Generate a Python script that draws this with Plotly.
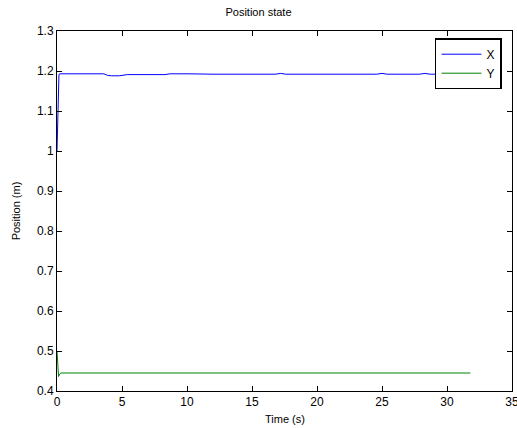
import plotly.graph_objects as go

# Data
time_x = [0.0, 0.05, 0.1, 0.15, 0.2, 3.6, 3.9, 4.2, 4.8, 5.1, 5.4, 8.3, 8.7, 10.0, 12.0, 16.8, 17.2, 17.6, 18.0, 24.6, 25.0, 25.4, 27.9, 28.3, 28.7, 31.8]
pos_x = [1.0, 1.10, 1.17, 1.19, 1.193, 1.193, 1.189, 1.188, 1.188, 1.190, 1.191, 1.191, 1.193, 1.193, 1.192, 1.192, 1.194, 1.192, 1.192, 1.192, 1.194, 1.192, 1.192, 1.194, 1.192, 1.192]
time_y = [0.0, 0.05, 0.12, 0.2, 0.3, 31.8]
pos_y = [0.50, 0.47, 0.436, 0.442, 0.445, 0.445]

x_ticks = [0, 5, 10, 15, 20, 25, 30, 35]
y_ticks = [0.4, 0.5, 0.6, 0.7, 0.8, 0.9, 1.0, 1.1, 1.2, 1.3]

fig = go.Figure()
fig.add_trace(go.Scatter(x=time_x, y=pos_x, mode="lines", name="X",
                         line=dict(color="#0000ff", width=1)))
fig.add_trace(go.Scatter(x=time_y, y=pos_y, mode="lines", name="Y",
                         line=dict(color="#008000", width=1)))

axis_common = dict(showgrid=False, zeroline=False, showline=True, linecolor="black",
                   linewidth=1, mirror="allticks", ticks="inside", ticklen=5,
                   tickcolor="black", tickfont=dict(size=12, color="black"),
                   automargin=False, ticklabeloverflow="allow")

fig.update_layout(
    width=517, height=428,
    paper_bgcolor="white", plot_bgcolor="white",
    font=dict(family="Liberation Sans, Arial, sans-serif", size=11, color="black"),
    margin=dict(l=57, r=5, t=31, b=37, autoexpand=False),
    title=dict(text="Position state", x=0.5, xanchor="center", y=0.972, yanchor="middle",
               font=dict(size=11, color="black")),
    xaxis=dict(range=[0, 35], tickvals=x_ticks, ticktext=[str(v) for v in x_ticks],
               title=dict(text="", font=dict(size=11)), **axis_common),
    yaxis=dict(range=[0.4, 1.3], tickvals=y_ticks,
               ticktext=[("%g" % v) for v in y_ticks],
               title=dict(text="Position (m)", standoff=14, font=dict(size=11)), **axis_common),
    legend=dict(x=0.978, y=0.98, xanchor="right", yanchor="top",
                bordercolor="black", borderwidth=1.5, bgcolor="white",
                font=dict(size=12), tracegroupgap=0, itemwidth=40),
    annotations=[dict(text="Time (s)", x=0.5, y=0, xref="paper", yref="paper",
                      xanchor="center", yanchor="top", yshift=-20, showarrow=False,
                      font=dict(size=11, color="black"))],
    showlegend=True,
)

fig.write_html("out.html", config={"displayModeBar": False},
               post_script="document.body.style.margin='0';document.body.style.overflow='hidden';")
